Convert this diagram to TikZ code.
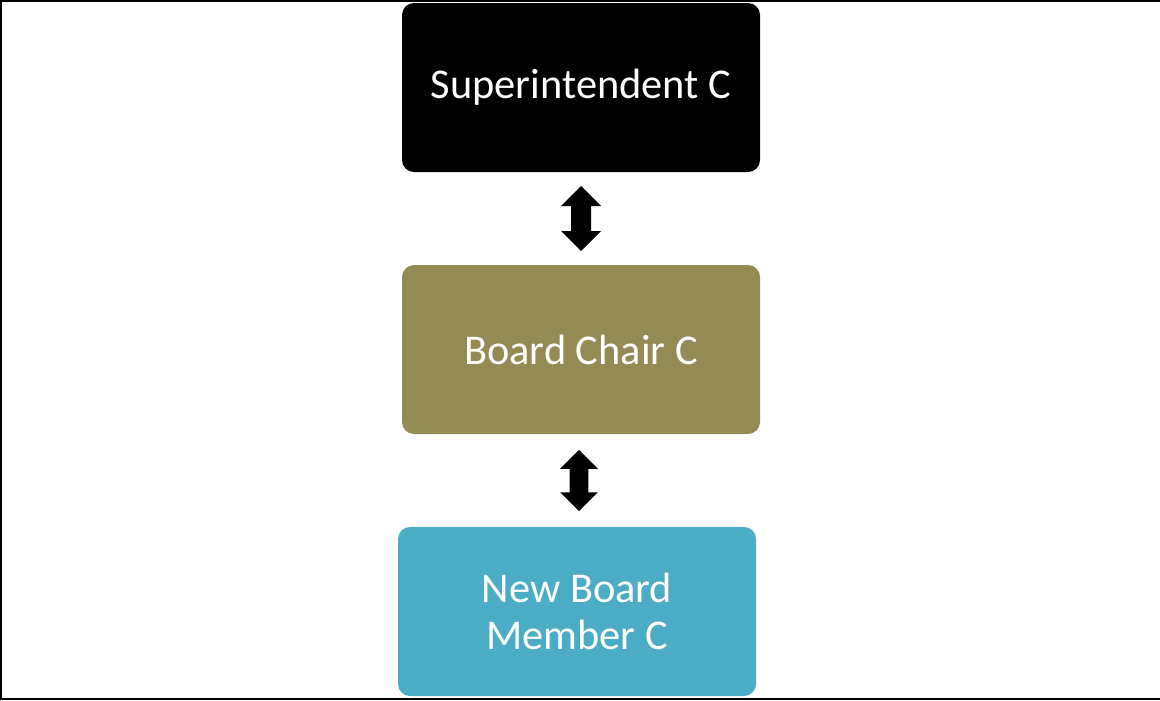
\documentclass[tikz,border=0pt]{standalone}
\usepackage{fontspec}
\setmainfont{Carlito}
\usetikzlibrary{calc}
\definecolor{olivebox}{HTML}{948A54}
\definecolor{tealbox}{HTML}{4BACC6}
\tikzset{
  box/.style={rectangle, rounded corners=9pt, minimum width=268.5pt, minimum height=126.75pt,
    inner sep=0pt, text=white, align=center, font=\fontsize{31.8}{35}\selectfont},
  dblarrow/.pic={\fill[black] (0,-32.5) -- (20,-12.5) -- (10,-12.5) -- (10,12.5) -- (20,12.5)
     -- (0,32.5) -- (-20,12.5) -- (-10,12.5) -- (-10,-12.5) -- (-20,-12.5) -- cycle;},
  frameline/.style={line width=1.5pt, black}
}
\begin{document}
\begin{tikzpicture}[x=0.75pt,y=-0.75pt]
\useasboundingbox (0,0) rectangle (1160,700);
\coordinate (tl) at (0.5,0.5);
\coordinate (tr) at (1160,0.5);
\coordinate (bl) at (0.5,698.5);
\coordinate (br) at (1160,698.5);
\draw[frameline] (tr) -- (tl) -- (bl) -- (br);
\node[box, fill=black] (sup) at (581,87.5) {\raisebox{-1.5pt}{Superintendent C}};
\node[box, fill=olivebox] (chair) at (581,349.5) {\raisebox{-1.5pt}{Board Chair C}};
\node[box, fill=tealbox] (member) at (577,611.5) {New Board\\Member C};
\coordinate (m1) at ($(sup.south)!0.5!(chair.north)$);
\coordinate (m2) at ($(chair.south)!0.5!(member.north)$);
\pic at (m1) {dblarrow};
\pic[scale=0.94] at (m2) {dblarrow};
\end{tikzpicture}
\end{document}
